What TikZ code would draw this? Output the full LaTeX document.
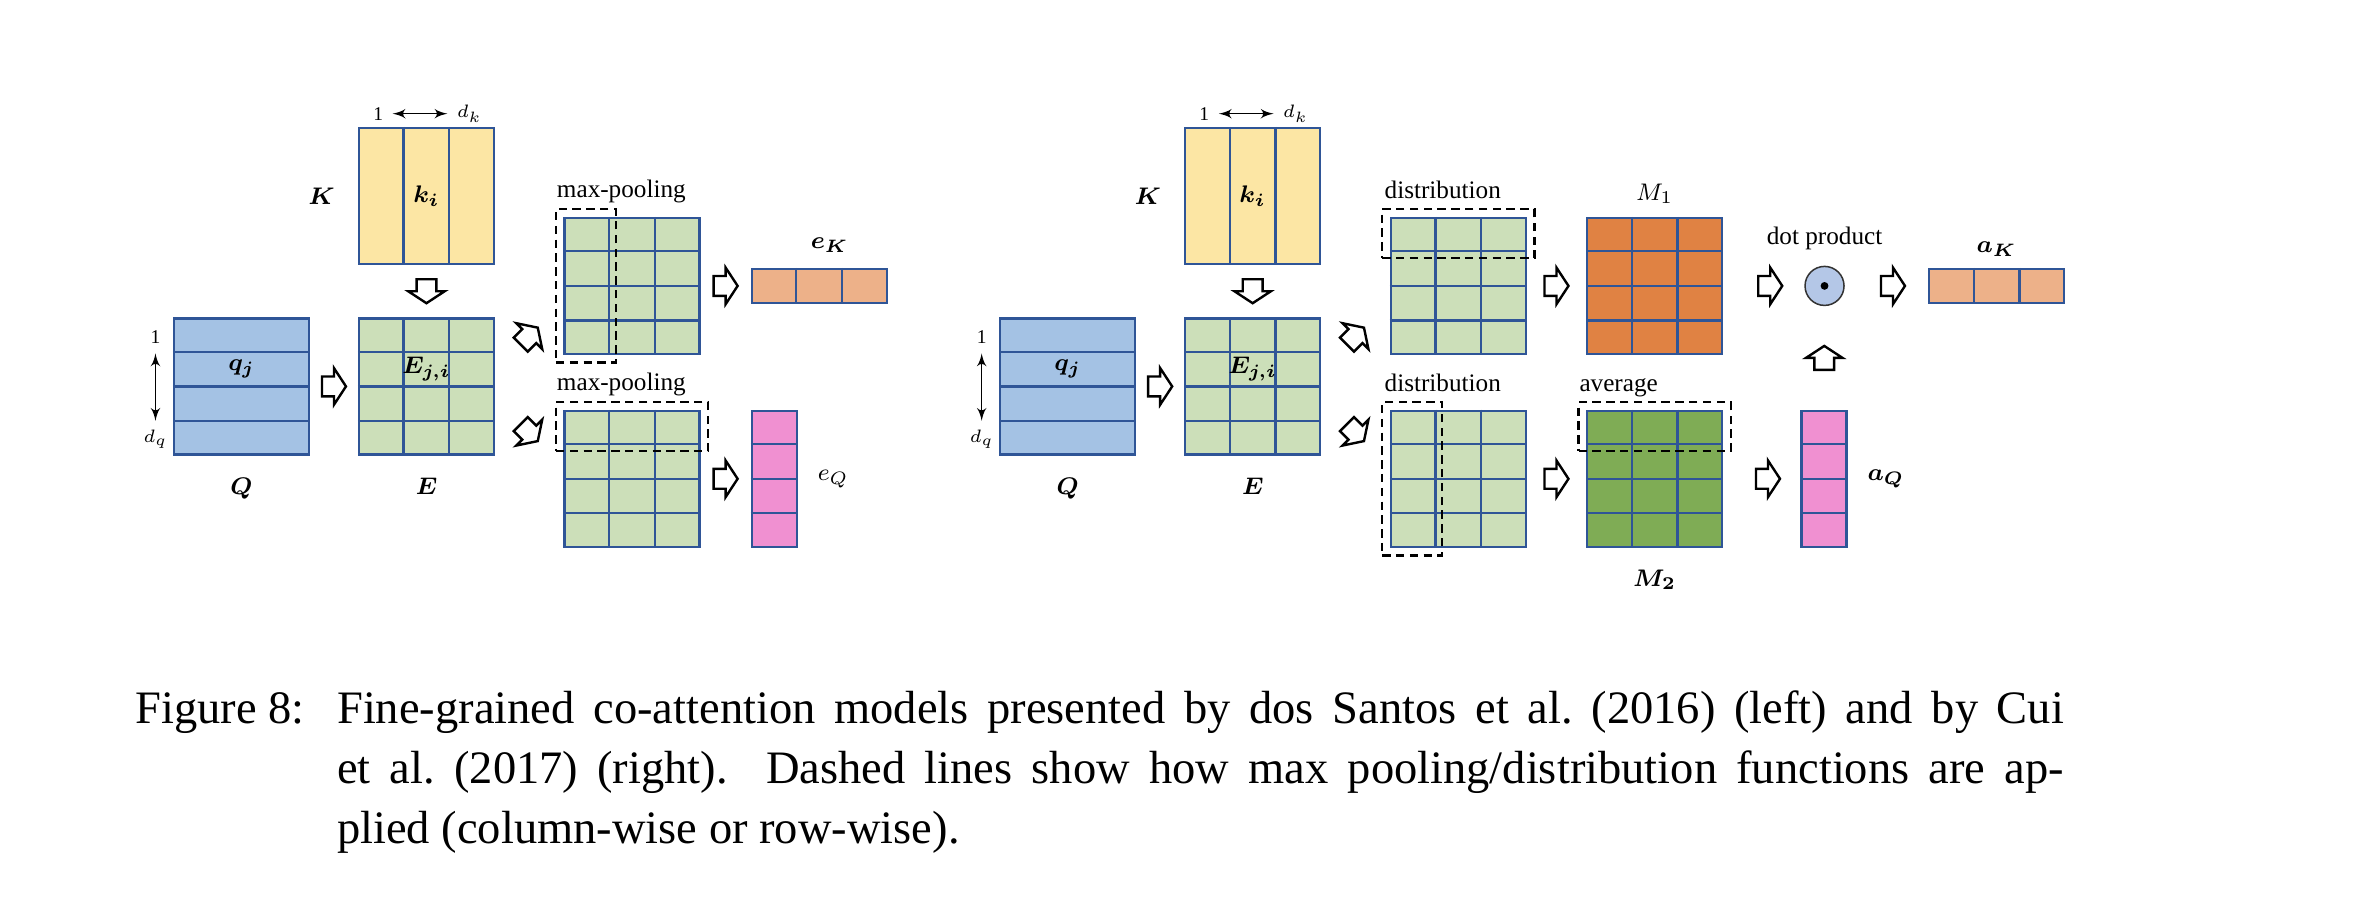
\documentclass[tikz,border=0pt]{standalone}
\usepackage{amsmath}
\usepackage{fontspec}
\setmainfont{Liberation Serif}
\usepackage{tikz}
\usetikzlibrary{positioning, arrows, calc, fit}

\definecolor{gridblue}{HTML}{2F5597}
\definecolor{keyyellow}{HTML}{FCE6A4}
\definecolor{queryblue}{HTML}{A4C2E4}
\definecolor{simgreen}{HTML}{CCDFB9}
\definecolor{vecsalmon}{HTML}{EDB189}
\definecolor{vecpink}{HTML}{F090D1}
\definecolor{morange}{HTML}{E08243}
\definecolor{mgreen}{HTML}{7FAC55}
\definecolor{dotblue}{HTML}{B4C7E7}

\newlength{\cellw}\setlength{\cellw}{15pt}
\newlength{\cellh}\setlength{\cellh}{11.33pt}
\newcommand{\colsplit}[2]{\foreach \cut in {#2} {\draw[cellline] ($(#1.north west)!\cut!(#1.north east)$) -- ($(#1.south west)!\cut!(#1.south east)$);}}
\newcommand{\rowsplit}[2]{\foreach \cut in {#2} {\draw[cellline] ($(#1.north west)!\cut!(#1.south west)$) -- ($(#1.north east)!\cut!(#1.south east)$);}}
\newcommand{\cells}[1]{\colsplit{#1}{0.3333,0.6667}\rowsplit{#1}{0.25,0.5,0.75}}

\tikzset{
mat/.style={
  draw=gridblue,
  line width=0.75pt,
  rectangle,
  inner sep=0pt,
  minimum width=3\cellw,
  minimum height=4\cellh
  },
rowvec/.style={mat, minimum height=\cellh},
colvec/.style={mat, minimum width=\cellw},
cellline/.style={draw=gridblue, line width=0.75pt},
pool/.style={draw, dash pattern=on 2.8pt off 1.8pt, line width=0.75pt, inner sep=2.5pt},
flow/.pic={
  \draw[line width=0.8pt, fill=white, line join=miter]
    (-4pt,-3.3pt) -- (0pt,-3.3pt) -- (0pt,-6.1pt) -- (4pt,0pt) -- (0pt,6.1pt) -- (0pt,3.3pt) -- (-4pt,3.3pt) -- cycle;
  },
lbl/.style={font=\fontsize{8.4}{10}\selectfont, inner sep=0pt},
sym/.style={font=\fontsize{8.5}{10}\selectfont, inner sep=0pt},
dim/.style={font=\fontsize{6.5}{8}\selectfont, inner sep=3pt},
captext/.style={font=\fontsize{15.5}{20}\selectfont, inner sep=0pt, anchor=base west},
line/.style={<->, >=latex', line width=0.5pt}
}

\begin{document}
\begin{tikzpicture}
\useasboundingbox (0,0) rectangle (786.67pt,-305.33pt);

\node[mat, fill=queryblue]	(Q)		at (80.5pt,-128.8pt)				{};
\node[mat, fill=simgreen]	(E)		[right=15.9pt of Q]				{};
\node[mat, fill=keyyellow]	(K)		[above=17.4pt of E]				{};
\node[mat, fill=simgreen]	(P1)	[right=22.8pt of E, yshift=33.5pt]	{};
\node[mat, fill=simgreen]	(P2)	[right=22.8pt of E, yshift=-30.8pt]	{};
\node[rowvec, fill=vecsalmon]	(eK)	[right=16.6pt of P1]			{};
\node[colvec, fill=vecpink]	(eQ)	[right=16.6pt of P2]			{};

\node[mat, fill=queryblue]	(Q2)	at (355.9pt,-128.8pt)				{};
\node[mat, fill=simgreen]	(E2)	[right=15.9pt of Q2]				{};
\node[mat, fill=keyyellow]	(K2)	[above=17.4pt of E2]				{};
\node[mat, fill=simgreen]	(P3)	[right=22.8pt of E2, yshift=33.5pt]	{};
\node[mat, fill=simgreen]	(P4)	[right=22.8pt of E2, yshift=-30.8pt]	{};
\node[mat, fill=morange]	(M1)	[right=19.7pt of P3]				{};
\node[mat, fill=mgreen]		(M2)	[right=19.7pt of P4]				{};
\node[circle, draw=black!80, fill=dotblue, line width=0.5pt, minimum size=13pt, inner sep=0pt]	(dot)	[right=27pt of M1]	{};
\node[rowvec, fill=vecsalmon]	(aK)	[right=27.7pt of dot]			{};
\node[colvec, fill=vecpink]	(aQ)	[right=25.7pt of M2]			{};
\fill (dot) circle (1.3pt);

\colsplit{K}{0.3333,0.6667}
\rowsplit{Q}{0.25,0.5,0.75}
\cells{E}
\cells{P1}
\cells{P2}
\colsplit{eK}{0.3333,0.6667}
\rowsplit{eQ}{0.25,0.5,0.75}
\colsplit{K2}{0.3333,0.6667}
\rowsplit{Q2}{0.25,0.5,0.75}
\cells{E2}
\cells{P3}
\cells{P4}
\cells{M1}
\cells{M2}
\colsplit{aK}{0.3333,0.6667}
\rowsplit{aQ}{0.25,0.5,0.75}

\pic[rotate=-90]	(fKE)	at ($(K.south)!0.5!(E.north)$)		{flow};
\pic				(fQE)	at ($(Q.east)!0.5!(E.west)$)		{flow};
\pic[rotate=45]		(fE1)	at ($(E.east)!0.5!(P1.west)$)		{flow};
\pic[rotate=-45]	(fE2)	at ($(E.east)!0.5!(P2.west)$)		{flow};
\pic				(f1K)	at ($(P1.east)!0.5!(eK.west)$)		{flow};
\pic				(f2Q)	at ($(P2.east)!0.5!(eQ.west)$)		{flow};
\pic[rotate=-90]	(fKE2)	at ($(K2.south)!0.5!(E2.north)$)	{flow};
\pic				(fQE2)	at ($(Q2.east)!0.5!(E2.west)$)		{flow};
\pic[rotate=45]		(fE3)	at ($(E2.east)!0.5!(P3.west)$)		{flow};
\pic[rotate=-45]	(fE4)	at ($(E2.east)!0.5!(P4.west)$)		{flow};
\pic				(f3M)	at ($(P3.east)!0.5!(M1.west)$)		{flow};
\pic				(f4M)	at ($(P4.east)!0.5!(M2.west)$)		{flow};
\pic				(fMd)	at ($(M1.east)!0.58!(dot.west)$)	{flow};
\pic				(fdK)	at ($(dot.east)!0.58!(aK.west)$)	{flow};
\pic				(fMQ)	at ($(M2.east)!0.58!(aQ.west)$)		{flow};
\pic[rotate=90]		(fQd)	at ($(aQ.north)!0.5!(dot.south)$)	{flow};

\node[pool, fit={(P1.north west) ($(P1.south west)+(\cellw,0)$)}]	(bP1)	{};
\node[pool, fit={(P2.north west) ($(P2.north east)+(0,-\cellh)$)}]	(bP2)	{};
\node[pool, fit={(P3.north west) ($(P3.north east)+(0,-\cellh)$)}]	(bP3)	{};
\node[pool, fit={(P4.north west) ($(P4.south west)+(\cellw,0)$)}]	(bP4)	{};
\node[pool, fit={(M2.north west) ($(M2.north east)+(0,-\cellh)$)}]	(bM2)	{};

\node[lbl, anchor=base west]	(tP1)	at ($(bP1.north west)+(0.5pt,3.5pt)$)	{max-pooling};
\node[lbl, anchor=base west]	(tP2)	at ($(bP2.north west)+(0.5pt,3.5pt)$)	{max-pooling};
\node[lbl, anchor=base west]	(tP3)	at ($(bP3.north west)+(1pt,3.3pt)$)	{distribution};
\node[lbl, anchor=base west]	(tP4)	at ($(bP4.north west)+(1pt,3.3pt)$)	{distribution};
\node[lbl, anchor=base west]	(tM2)	at ($(bM2.north west)+(0.5pt,3.3pt)$)	{average};
\node[lbl]	(tdot)	[above=7pt of dot, anchor=base]	{dot product};

\node[sym]	(tK)	[left=7.5pt of K]	{$\boldsymbol{K}$};
\node[sym]	(tki)	at (K)				{$\boldsymbol{k_i}$};
\node[sym]	(tqj)	at ($(Q.north)!0.375!(Q.south)$)	{$\boldsymbol{q_j}$};
\node[sym]	(tEji)	at ($(E.north)!0.375!(E.south)$)	{$\boldsymbol{E_{j,i}}$};
\node[sym]	(tQ)	[below=13pt of Q, anchor=base]	{$\boldsymbol{Q}$};
\node[sym]	(tE)	[below=13pt of E, anchor=base]	{$\boldsymbol{E}$};
\node[sym]	(teK)	[above=6.5pt of eK, anchor=base, xshift=3.5pt]	{$\boldsymbol{e_K}$};
\node[sym]	(teQ)	[right=6.5pt of eQ]	{$e_Q$};

\node[sym]	(tK2)	[left=7.5pt of K2]	{$\boldsymbol{K}$};
\node[sym]	(tki2)	at (K2)				{$\boldsymbol{k_i}$};
\node[sym]	(tqj2)	at ($(Q2.north)!0.375!(Q2.south)$)	{$\boldsymbol{q_j}$};
\node[sym]	(tEji2)	at ($(E2.north)!0.375!(E2.south)$)	{$\boldsymbol{E_{j,i}}$};
\node[sym]	(tQ2)	[below=13pt of Q2, anchor=base]	{$\boldsymbol{Q}$};
\node[sym]	(tE2)	[below=13pt of E2, anchor=base]	{$\boldsymbol{E}$};
\node[sym]	(tM1)	[above=5.4pt of M1, anchor=base]	{$M_1$};
\node[sym]	(tM2)	[below=12.9pt of M2, anchor=base]	{$\boldsymbol{M_2}$};
\node[sym]	(taK)	[above=5pt of aK, anchor=base]	{$\boldsymbol{a_K}$};
\node[sym]	(taQ)	[right=6.5pt of aQ]	{$\boldsymbol{a_Q}$};

\node[dim]	(K1)	at ($(K.north)+(-16.1pt,4.4pt)$)	{1};
\node[dim]	(Kd)	at ($(K.north)+(14.3pt,4.4pt)$)		{$d_k$};
\node[dim]	(Q1)	at ($(Q.north west)+(-5.8pt,-6.7pt)$)	{1};
\node[dim]	(Qd)	at ($(Q.south west)+(-5.8pt,5.3pt)$)	{$d_q$};
\node[dim]	(K21)	at ($(K2.north)+(-16.1pt,4.4pt)$)	{1};
\node[dim]	(K2d)	at ($(K2.north)+(14.3pt,4.4pt)$)	{$d_k$};
\node[dim]	(Q21)	at ($(Q2.north west)+(-5.8pt,-6.7pt)$)	{1};
\node[dim]	(Q2d)	at ($(Q2.south west)+(-5.8pt,5.3pt)$)	{$d_q$};

\draw[line] (K1) -- (K1 -| Kd.west);
\draw[line] (Q1) -- (Q1 |- Qd.north);
\draw[line] (K21) -- (K21 -| K2d.west);
\draw[line] (Q21) -- (Q21 |- Q2d.north);

\node[captext]	(fig)	at (45pt,-241.1pt)		{Figure 8:};
\node[captext]	(cap1)	at (112.2pt,-241.1pt)	{\makebox[575.6pt][s]{Fine-grained co-attention models presented by dos Santos et al.\ (2016) (left) and by Cui}};
\node[captext]	(cap2)	at (112.2pt,-261.1pt)	{\makebox[575.6pt][s]{et al.\ (2017) (right).  Dashed lines show how max pooling/distribution functions are ap-}};
\node[captext]	(cap3)	at (112.2pt,-281.1pt)	{plied (column-wise or row-wise).};
\end{tikzpicture}
\end{document}
